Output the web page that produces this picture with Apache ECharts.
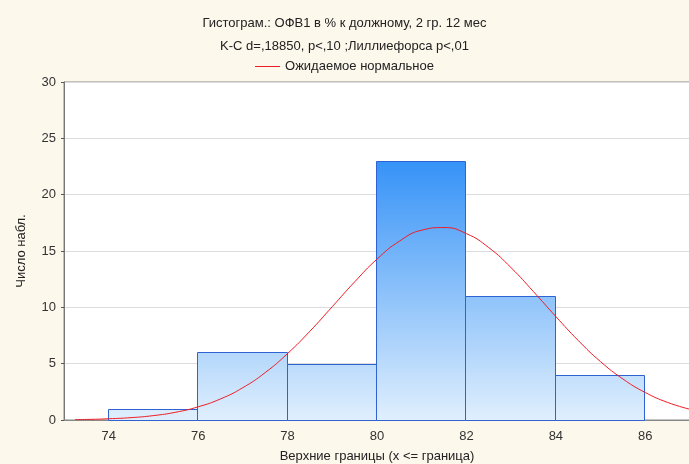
<!DOCTYPE html>
<html>
<head>
<meta charset="utf-8">
<script src="https://cdn.jsdelivr.net/npm/echarts@6/dist/echarts.min.js"></script>
<style>
html,body{margin:0;padding:0;background:#fdf8ec;}
#chart{width:689px;height:464px;}
</style>
</head>
<body>
<div id="chart"></div>
<script>
// Histogram bins (lower and upper bounds) and counts
var binStarts = [74, 76, 78, 80, 82, 84];
var binEnds   = [76, 78, 80, 82, 84, 86];
var counts    = [1, 6, 5, 23, 11, 4];

// Expected normal curve
var curveX = [73.25, 73.5, 74, 74.5, 75, 75.5, 76, 76.5, 77, 77.5, 78, 78.5, 79, 79.5, 80, 80.5, 81, 81.5, 82, 82.5, 83, 83.5, 84, 84.5, 85, 85.5, 86, 86.5, 87];
var curveY = [0.04, 0.05, 0.11, 0.21, 0.39, 0.69, 1.17, 1.87, 2.87, 4.21, 5.90, 7.88, 10.06, 12.26, 14.28, 15.87, 16.85, 17.08, 16.54, 15.30, 13.51, 11.39, 9.18, 7.06, 5.18, 3.64, 2.44, 1.56, 0.95];

var xTicks = [74, 76, 78, 80, 82, 84, 86];
var yTicks = [0, 5, 10, 15, 20, 25, 30];

var titleText = 'Гистограм.: ОФВ1 в % к должному, 2 гр. 12 мес\nK-C d=,18850, p<,10 ;Лиллиефорса p<,01';
var legendName = 'Ожидаемое нормальное';
var xName = 'Верхние границы (x <= граница)';
var yName = 'Число набл.';

var FONT = 'Liberation Sans, Arial, sans-serif';
var barData = binStarts.map(function (s, i) { return [s, binEnds[i], counts[i]]; });
var lineData = curveX.map(function (x, i) { return [x, curveY[i]]; });

var chart = echarts.init(document.getElementById('chart'), null, {renderer: 'canvas'});
var gradient = {
  type: 'linear', x: 0, y: 160, x2: 0, y2: 420, global: true,
  colorStops: [{offset: 0, color: '#3592f7'}, {offset: 1, color: '#e0effd'}]
};
chart.setOption({
  backgroundColor: '#fdf8ec',
  animation: false,
  textStyle: {fontFamily: FONT},
  title: {
    text: titleText,
    left: 'center', top: 7,
    textStyle: {fontFamily: FONT, fontSize: 13, fontWeight: 'normal', color: '#222', lineHeight: 23}
  },
  legend: {
    top: 55, left: 'center',
    itemWidth: 25, itemHeight: 10, itemGap: 6,
    textStyle: {fontFamily: FONT, fontSize: 13, color: '#222'},
    data: [{name: legendName, icon: 'path://M0,5 L25,5 L25,6 L0,6 Z'}]
  },
  grid: {
    left: 64, right: -1, top: 82, bottom: 44,
    outerBoundsMode: 'none', containLabel: false,
    show: true, backgroundColor: '#ffffff', borderColor: '#888', borderWidth: 1
  },
  xAxis: [{
    type: 'value', min: 73, max: 87, interval: 1,
    name: xName, nameLocation: 'middle', nameGap: 30,
    nameTextStyle: {fontFamily: FONT, fontSize: 13, color: '#222'},
    axisLine: {show: true, onZero: false, lineStyle: {color: '#222'}},
    axisTick: {show: false},
    splitLine: {show: false},
    axisLabel: {
      fontFamily: FONT, fontSize: 13, color: '#333', margin: 10,
      formatter: function (v) { return xTicks.indexOf(v) >= 0 ? String(v) : ''; }
    }
  }, {
    type: 'value', position: 'top', min: 73, max: 87, interval: 1,
    axisLine: {show: true, lineStyle: {color: '#888'}},
    axisLabel: {show: false},
    axisTick: {show: false},
    splitLine: {show: false}
  }],
  yAxis: [{
    type: 'value', min: 0, max: 30, interval: 5,
    name: yName, nameLocation: 'middle', nameGap: 36, nameRotate: 90,
    nameTextStyle: {fontFamily: FONT, fontSize: 13, color: '#222'},
    axisLine: {show: true, lineStyle: {color: '#777'}},
    axisTick: {show: true, length: 3, lineStyle: {color: '#555'}},
    axisLabel: {
      fontFamily: FONT, fontSize: 13, color: '#333', margin: 8,
      formatter: function (v) { return yTicks.indexOf(v) >= 0 ? String(v) : ''; }
    },
    splitLine: {show: true, lineStyle: {color: '#dcdcdc', width: 1}}
  }],
  series: [{
    type: 'custom',
    name: 'bars',
    data: barData,
    encode: {x: [0, 1], y: 2},
    renderItem: function (params, api) {
      var p0 = api.coord([api.value(0), api.value(2)]);
      var p1 = api.coord([api.value(1), 0]);
      return {
        type: 'rect',
        shape: {x: Math.round(p0[0]) - 0.5, y: Math.round(p0[1]) + 0.5,
                width: Math.round(p1[0]) - Math.round(p0[0]), height: Math.round(p1[1]) - Math.round(p0[1])},
        style: {fill: gradient, stroke: '#2f62d2', lineWidth: 1}
      };
    },
    z: 2
  }, {
    type: 'line',
    name: legendName,
    data: lineData,
    showSymbol: false,
    symbol: 'none',
    smooth: true,
    lineStyle: {color: '#ee1c24', width: 1},
    itemStyle: {color: '#ee1c24'},
    z: 3
  }]
});
</script>
</body>
</html>
